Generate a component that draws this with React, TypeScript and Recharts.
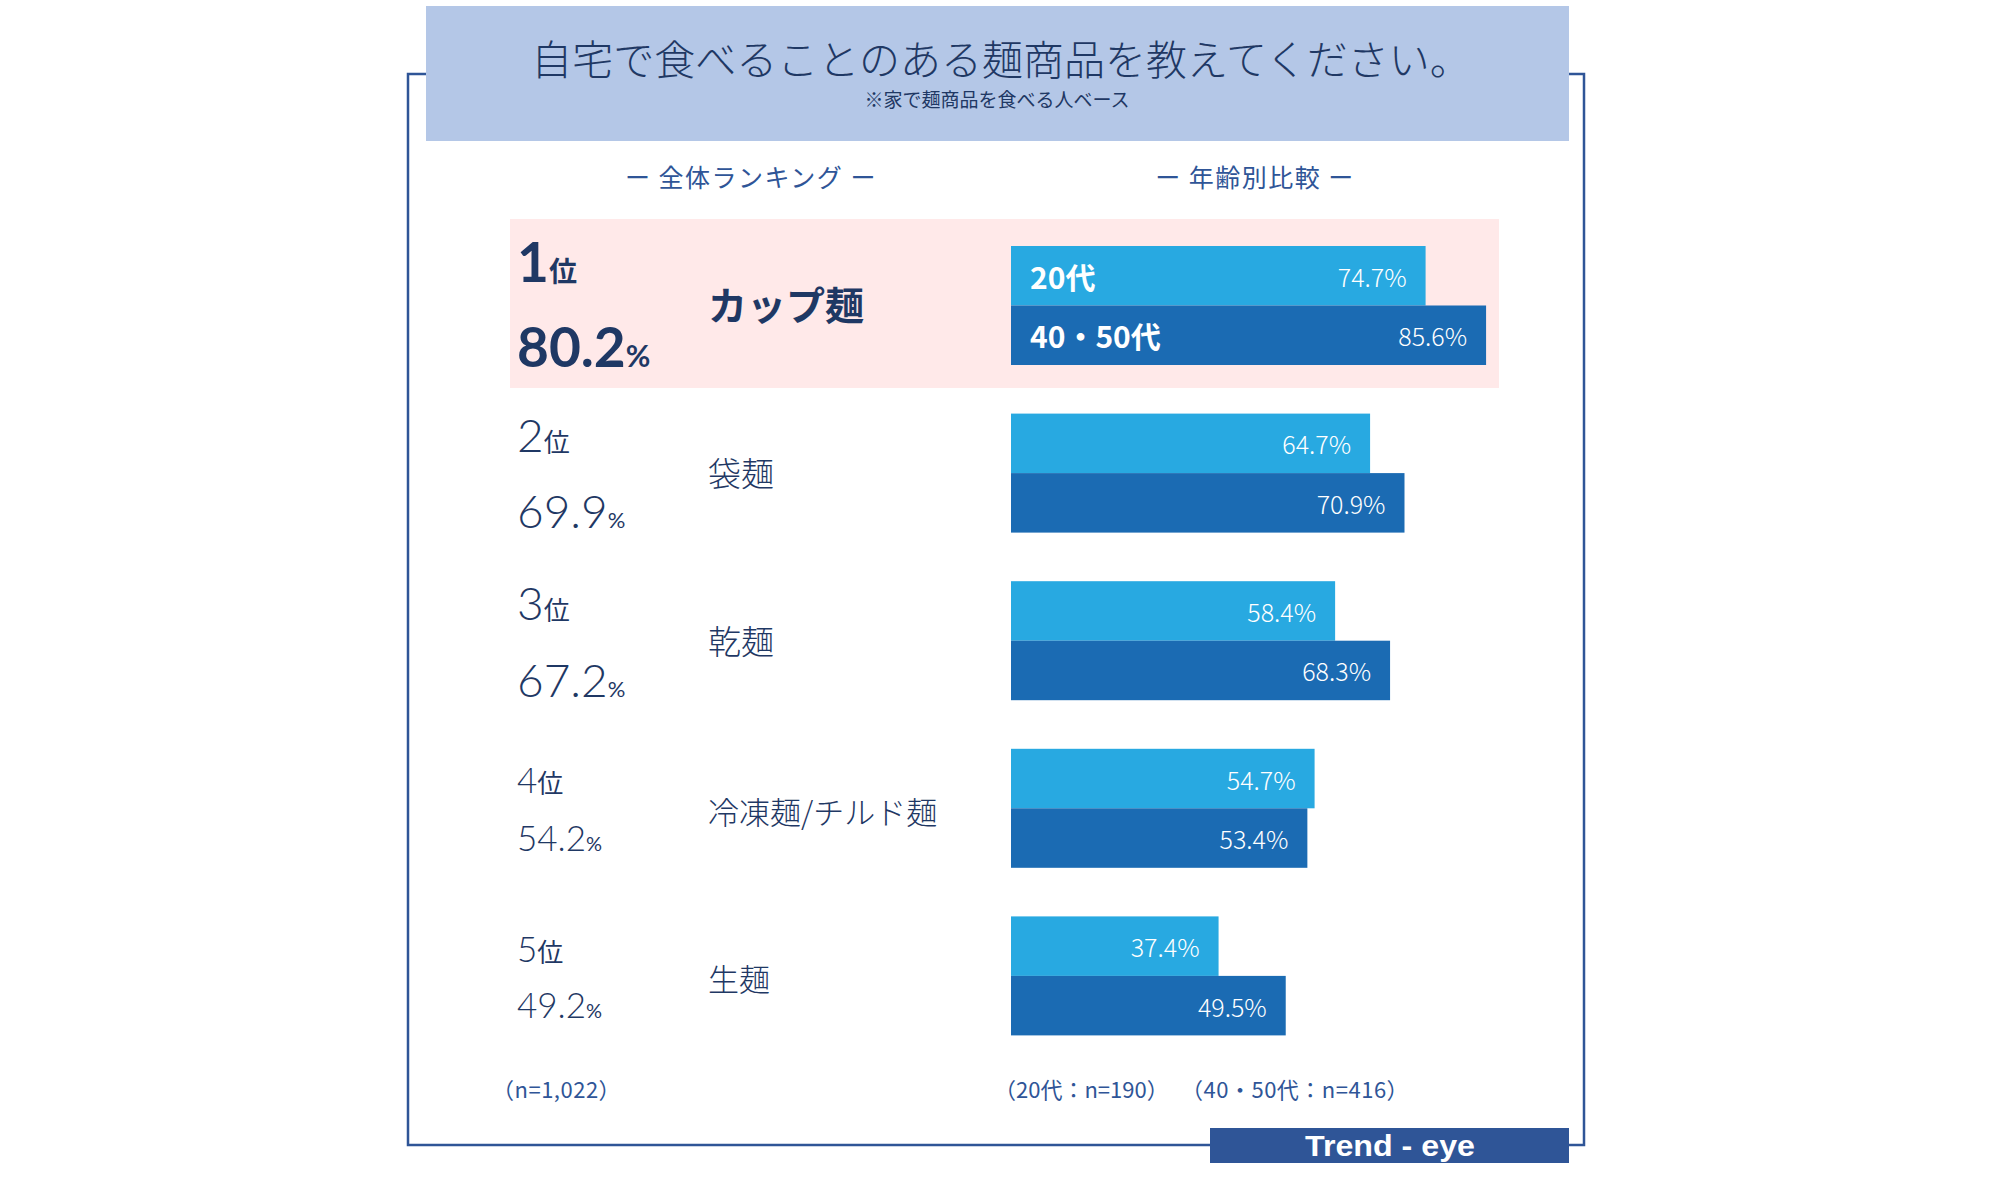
import React from 'react';
import { BarChart, Bar, XAxis, YAxis } from 'recharts';

// ---- data ----
const categories = ['カップ麺', '袋麺', '乾麺', '冷凍麺/チルド麺', '生麺'];
const rankNumbers = ['1', '2', '3', '4', '5'];
const overallValues = [80.2, 69.9, 67.2, 54.2, 49.2];
const values20s = [74.7, 64.7, 58.4, 54.7, 37.4];
const values4050s = [85.6, 70.9, 68.3, 53.4, 49.5];
const seriesLabels = ['20代', '40・50代'];
const titleText = '自宅で食べることのある麺商品を教えてください。';
const subtitleText = '※家で麺商品を食べる人ベース';
const sectionLabels = ['ー 全体ランキング ー', 'ー 年齢別比較 ー'];
const sampleOverall = '（n=1,022）';
const sampleByAge = ['（20代：n=190）', '（40・50代：n=416）'];
const brandText = 'Trend - eye';

const rows = categories.map((name, i) => ({
  name,
  rank: rankNumbers[i],
  overall: overallValues[i],
  a20: values20s[i],
  a4050: values4050s[i],
}));

// ---- styles ----
const JP = '"Noto Sans CJK JP", "Noto Sans", sans-serif';
const NUM = 'Lato, "Noto Sans", sans-serif';
const NAVY = '#1f3864';
const BLUE = '#2f5597';
const LIGHT_BAR = '#28a9e1';
const DARK_BAR = '#1b6bb3';

// text layout for the ranking column (annotation positions, not data)
const rankLayout = [
  { rankY: 282, pctY: 367, nameY: 303, num: 55, unit: 28, pctUnit: 30, name: 39, bold: true },
  { rankY: 452, pctY: 528, nameY: 472, num: 46, unit: 26, pctUnit: 22, name: 33, bold: false },
  { rankY: 620, pctY: 697, nameY: 640, num: 46, unit: 26, pctUnit: 22, name: 33, bold: false },
  { rankY: 793, pctY: 851, nameY: 810, num: 35, unit: 26, pctUnit: 20, name: 31, bold: false },
  { rankY: 962, pctY: 1018, nameY: 977, num: 35, unit: 26, pctUnit: 20, name: 31, bold: false },
];

const makeShape = (key: 'a20' | 'a4050', fill: string, seriesLabel: string) => (props: any) => {
  const { x, y, width, height, payload } = props;
  const v = payload[key] as number;
  const showSeries = payload.name === categories[0];
  return (
    <g>
      <rect x={x} y={y} width={width} height={height} fill={fill} />
      {showSeries ? (
        <text
          x={x + 19}
          y={y + height / 2}
          dominantBaseline="central"
          fill="#ffffff"
          fontSize={30}
          fontWeight={700}
          fontFamily={JP}
        >
          {seriesLabel}
        </text>
      ) : null}
      <text
        x={x + width - 19}
        y={y + height / 2}
        textAnchor="end"
        dominantBaseline="central"
        fill="#ffffff"
        fontSize={25}
        fontWeight={300}
        fontFamily={JP}
      >
        {v.toFixed(1)}%
      </text>
    </g>
  );
};

export default function App() {
  return (
    <div style={{ position: 'relative', width: 2000, height: 1180, background: '#ffffff', overflow: 'hidden' }}>
      <style>{`body{margin:0;}`}</style>
      {/* background and static text layer */}
      <svg width={2000} height={1180} style={{ position: 'absolute', left: 0, top: 0 }}>
        <rect x={408} y={74} width={1176} height={1071} fill="none" stroke={BLUE} strokeWidth={2.5} />
        <rect x={426} y={6} width={1143} height={135} fill="#b4c7e7" />
        <rect x={510} y={219} width={989} height={169} fill="#ffe9e9" />
        <rect x={1210} y={1128} width={359} height={35} fill={BLUE} />

        <text x={1001} y={57} textAnchor="middle" dominantBaseline="central" fontSize={41} fontWeight={300} fill={NAVY} fontFamily={JP}>
          {titleText}
        </text>
        <text x={997} y={98} textAnchor="middle" dominantBaseline="central" fontSize={19} fill={NAVY} fontFamily={JP}>
          {subtitleText}
        </text>

        <text x={751} y={176} textAnchor="middle" dominantBaseline="central" fontSize={25} letterSpacing={1.5} fill={BLUE} fontFamily={JP}>
          {sectionLabels[0]}
        </text>
        <text x={1255} y={176} textAnchor="middle" dominantBaseline="central" fontSize={25} letterSpacing={1.5} fill={BLUE} fontFamily={JP}>
          {sectionLabels[1]}
        </text>

        {rows.map((r, i) => {
          const L = rankLayout[i];
          const w = L.bold ? 700 : 300;
          return (
            <g key={r.name} fill={NAVY}>
              <text x={517} y={L.rankY}>
                <tspan fontFamily={NUM} fontSize={L.num} fontWeight={w}>{r.rank}</tspan>
                <tspan fontFamily={JP} fontSize={L.unit} fontWeight={L.bold ? 700 : 400}>位</tspan>
              </text>
              <text x={517} y={L.pctY}>
                <tspan fontFamily={NUM} fontSize={L.num} fontWeight={w}>{r.overall.toFixed(1)}</tspan>
                <tspan fontFamily={NUM} fontSize={L.pctUnit} fontWeight={L.bold ? 700 : 400}>%</tspan>
              </text>
              <text x={708} y={L.nameY} dominantBaseline="central" fontFamily={JP} fontSize={L.name} fontWeight={L.bold ? 700 : 300}>
                {r.name}
              </text>
            </g>
          );
        })}

        <text x={492} y={1088} dominantBaseline="central" fontSize={22} letterSpacing={0.5} fill={BLUE} fontFamily={JP}>
          {sampleOverall}
        </text>
        <text x={994} y={1088} dominantBaseline="central" fontSize={22} fill={BLUE} fontFamily={JP}>
          {sampleByAge[0]}
        </text>
        <text x={1181} y={1088} dominantBaseline="central" fontSize={22} letterSpacing={0.5} fill={BLUE} fontFamily={JP}>
          {sampleByAge[1]}
        </text>

        <text x={1390} y={1156} textAnchor="middle" fontSize={30} fontWeight={700} fill="#ffffff" fontFamily='"Liberation Sans", Arial, sans-serif' textLength={170} lengthAdjust="spacingAndGlyphs">
          {brandText}
        </text>
      </svg>

      {/* age comparison bars */}
      <div style={{ position: 'absolute', left: 1011, top: 222 }}>
        <BarChart
          width={555}
          height={838}
          layout="vertical"
          data={rows}
          margin={{ top: 0, right: 0, bottom: 0, left: 0 }}
          barGap={0}
          barSize={59.5}
        >
          <XAxis type="number" domain={[0, 100]} hide />
          <YAxis type="category" dataKey="name" hide />
          <Bar dataKey="a20" fill={LIGHT_BAR} isAnimationActive={false} shape={makeShape('a20', LIGHT_BAR, seriesLabels[0])} />
          <Bar dataKey="a4050" fill={DARK_BAR} isAnimationActive={false} shape={makeShape('a4050', DARK_BAR, seriesLabels[1])} />
        </BarChart>
      </div>
    </div>
  );
}
